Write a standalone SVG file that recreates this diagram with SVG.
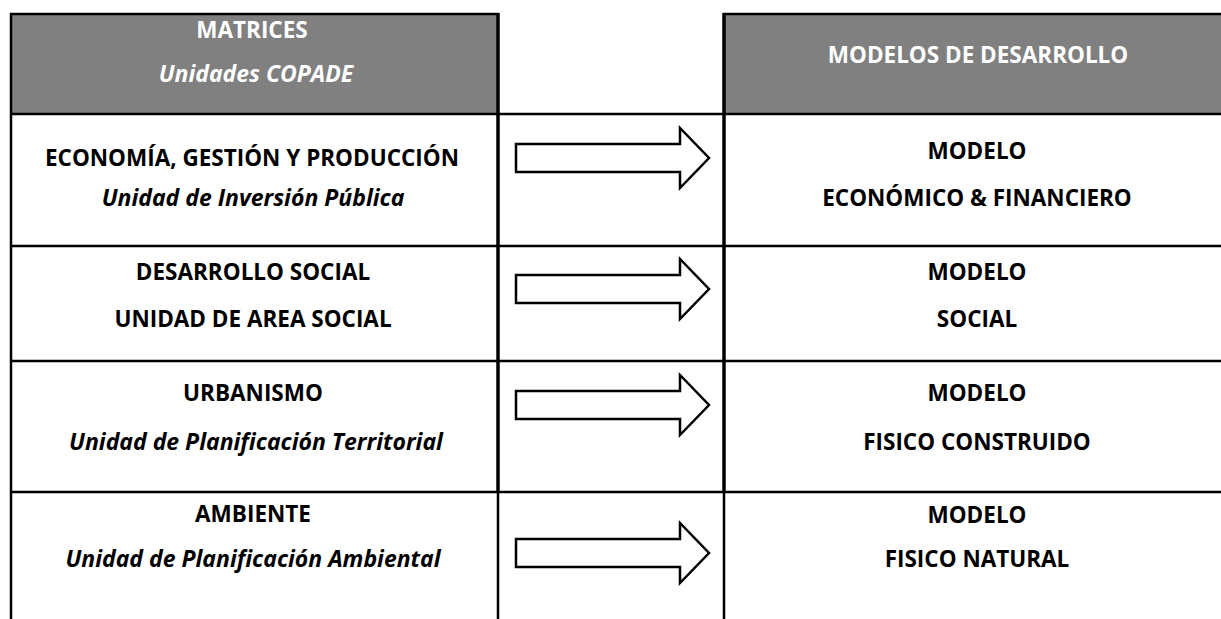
<svg xmlns="http://www.w3.org/2000/svg" xmlns:xlink="http://www.w3.org/1999/xlink" width="1221" height="619" viewBox="0 0 1221 619">
<style>
.t{font-family:"Open Sans","Liberation Sans",sans-serif;font-weight:bold;font-size:22.5px;fill:#000;text-anchor:middle}
.i{font-style:italic;font-size:23px}
.w{fill:#fff}
.ln{stroke:#000;stroke-width:2.5;fill:none}
.vl{stroke:#000;stroke-width:3.5;fill:none}
.hdr{fill:#808080}
.arr{fill:#fff;stroke:#000;stroke-width:2.5;stroke-linejoin:miter}
</style>
<defs>
<path id="arrow" class="arr" d="M516,-14 H680 V-30 L709,0 L680,30 V14 H516 Z"/>
</defs>
<rect width="1221" height="619" fill="#fff"/>
<g id="header-left">
<rect class="hdr" x="11" y="14" width="487" height="99"/>
<text class="t w" x="252" y="38">MATRICES</text>
<text class="t w i" x="256" y="82">Unidades COPADE</text>
</g>
<g id="header-right">
<rect class="hdr" x="724" y="14" width="497" height="99"/>
<text class="t w" x="978" y="63">MODELOS DE DESARROLLO</text>
</g>
<g id="grid">
<line class="ln" x1="10" y1="14" x2="499" y2="14"/>
<line class="ln" x1="723" y1="14" x2="1221" y2="14"/>
<line class="ln" x1="10" y1="114" x2="1221" y2="114"/>
<line class="ln" x1="10" y1="246" x2="1221" y2="246"/>
<line class="ln" x1="10" y1="361" x2="1221" y2="361"/>
<line class="ln" x1="10" y1="492" x2="1221" y2="492"/>
<line class="ln" x1="11" y1="13" x2="11" y2="619"/>
<line class="vl" x1="498" y1="13" x2="498" y2="492"/>
<line class="vl" x1="724" y1="13" x2="724" y2="492"/>
<line class="ln" x1="498" y1="492" x2="498" y2="619"/>
<line class="ln" x1="724" y1="492" x2="724" y2="619"/>
</g>
<g id="row1-left">
<text class="t" x="252" y="166">ECONOMÍA, GESTIÓN Y PRODUCCIÓN</text>
<text class="t i" x="253" y="206">Unidad de Inversión Pública</text>
</g>
<g id="row1-right">
<text class="t" x="977" y="159">MODELO</text>
<text class="t" x="977" y="206">ECONÓMICO &amp; FINANCIERO</text>
</g>
<g id="row2-left">
<text class="t" x="253" y="280">DESARROLLO SOCIAL</text>
<text class="t" x="253" y="327">UNIDAD DE AREA SOCIAL</text>
</g>
<g id="row2-right">
<text class="t" x="977" y="280">MODELO</text>
<text class="t" x="977" y="327">SOCIAL</text>
</g>
<g id="row3-left">
<text class="t" x="253" y="401">URBANISMO</text>
<text class="t i" x="256" y="450">Unidad de Planificación Territorial</text>
</g>
<g id="row3-right">
<text class="t" x="977" y="401">MODELO</text>
<text class="t" x="977" y="450">FISICO CONSTRUIDO</text>
</g>
<g id="row4-left">
<text class="t" x="253" y="522">AMBIENTE</text>
<text class="t i" x="253" y="567">Unidad de Planificación Ambiental</text>
</g>
<g id="row4-right">
<text class="t" x="977" y="523">MODELO</text>
<text class="t" x="977" y="567">FISICO NATURAL</text>
</g>
<g id="connectors">
<use xlink:href="#arrow" y="158"/>
<use xlink:href="#arrow" y="289"/>
<use xlink:href="#arrow" y="405"/>
<use xlink:href="#arrow" y="553"/>
</g>
</svg>
